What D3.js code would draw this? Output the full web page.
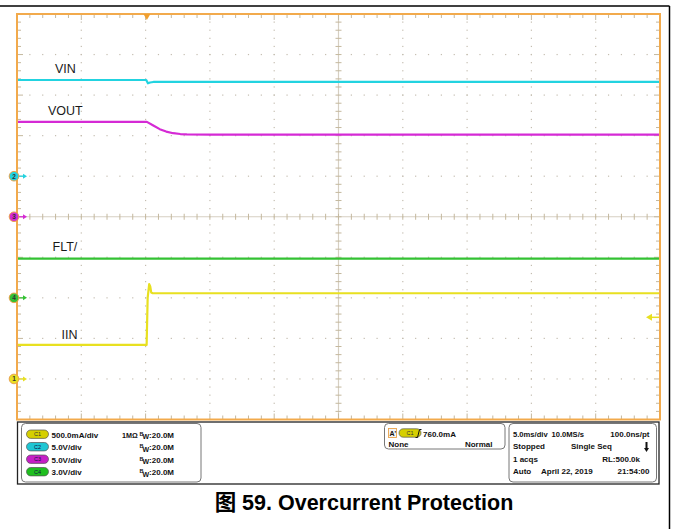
<!DOCTYPE html>
<html><head><meta charset="utf-8">
<script src="https://d3js.org/d3.v7.min.js"></script>
<style>
html,body{margin:0;padding:0;background:#fff;}
svg{display:block;font-family:"Liberation Sans",Arial,"Noto Sans CJK SC",sans-serif;}
</style></head>
<body><div id="chart"></div>
<script>
// ---- data ----
const channelIds = ["1", "2", "3", "4"];
const channelColors = ["#e8e020", "#22d3e0", "#d52ad5", "#33c233"];
const channelOffsetsDiv = [-4, 1, 0, -2];          // ground marker position (div)
const channelUnitsPerDiv = [500, 5, 5, 3];          // mA/div, V/div
const channelScaleLabels = ["500.0mA/div", "5.0V/div", "5.0V/div", "3.0V/div"];
const channelImpedance = ["1MΩ", "", "", ""];

const vinTime   = [-10.1, -0.05, 0.08, 0.25, 0.5, 39.9];
const vinValues = [11.86, 11.86, 11.45, 11.55, 11.62, 11.62];

const voutTime   = [-10.1, 0, 0.5, 1.0, 1.5, 2.05, 2.6, 3.1, 5, 39.9];
const voutValues = [11.7, 11.7, 11.25, 10.8, 10.5, 10.3, 10.2, 10.16, 10.13, 10.13];

const fltTime   = [-10.1, 39.9];
const fltValues = [2.9, 2.9];

const iinTime   = [-10.1, -0.02, 0.06, 0.18, 0.26, 0.34, 0.45, 39.9];
const iinValues = [420, 420, 1000, 1170, 1140, 1065, 1057, 1057];

const traceLabels = ["VIN", "VOUT", "FLT/", "IIN"];
const triggerLevel = 760; // mA on C1

const infoTrigger = ["760.0mA", "None", "Normal"];
const infoAcq = ["5.0ms/div", "10.0MS/s", "100.0ns/pt", "Stopped", "Single Seq", "1 acqs", "RL:500.0k", "Auto", "April 22, 2019", "21:54:00"];
const caption = "图 59. Overcurrent Protection";

// ---- layout ----
const W = 673, H = 529;
const svg = d3.select("#chart").append("svg").attr("width", W).attr("height", H);
svg.append("rect").attr("width", W).attr("height", H).attr("fill", "#fff");

const L = 17, R = 660, T = 14, B = 419.5;
const xDiv = d3.scaleLinear().domain([0, 10]).range([L, R]);
const yDiv = d3.scaleLinear().domain([-5, 5]).range([B, T]);
const xT = d3.scaleLinear().domain([-10.1, 39.9]).range([L, R]);

// page border lines
svg.append("line").attr("x1", 0).attr("x2", 669.5).attr("y1", 6).attr("y2", 6).attr("stroke", "#000").attr("stroke-width", 1.5);
svg.append("line").attr("x1", 669.5).attr("x2", 669.5).attr("y1", 6).attr("y2", H).attr("stroke", "#000").attr("stroke-width", 1.5);

const g = svg.append("g");
const gridCol = "#c4bdb0";

// dotted grid
for (let i = 1; i < 10; i++) {
  if (i === 5) continue;
  d3.range(0, 50.01, 1).forEach(k => {
    const yv = -5 + k * 0.2;
    g.append("rect").attr("x", xDiv(i) - 0.6).attr("y", yDiv(yv) - 0.6).attr("width", 1.2).attr("height", 1.2).attr("fill", gridCol);
  });
}
for (let j = -4; j <= 4; j++) {
  if (j === 0) continue;
  d3.range(0, 50.01, 1).forEach(k => {
    const xv = k * 0.2;
    g.append("rect").attr("x", xDiv(xv) - 0.6).attr("y", yDiv(j) - 0.6).attr("width", 1.2).attr("height", 1.2).attr("fill", gridCol);
  });
}
// center cross
g.append("line").attr("x1", L).attr("x2", R).attr("y1", yDiv(0)).attr("y2", yDiv(0)).attr("stroke", "#d6cfc2").attr("stroke-width", 1.2);
g.append("line").attr("x1", xDiv(5)).attr("x2", xDiv(5)).attr("y1", T).attr("y2", B).attr("stroke", "#d6cfc2").attr("stroke-width", 1.2);
const tickCol = "#c4b89e";
d3.range(0, 50.01, 1).forEach(k => {
  const xv = k * 0.2, major = k % 5 === 0;
  g.append("line").attr("x1", xDiv(xv)).attr("x2", xDiv(xv)).attr("y1", yDiv(0) - 3).attr("y2", yDiv(0) + 3).attr("stroke", tickCol);
  g.append("line").attr("x1", xDiv(xv)).attr("x2", xDiv(xv)).attr("y1", T).attr("y2", T + (major ? 6 : 4)).attr("stroke", tickCol);
  g.append("line").attr("x1", xDiv(xv)).attr("x2", xDiv(xv)).attr("y1", B).attr("y2", B - (major ? 6 : 4)).attr("stroke", tickCol);
  const yv = -5 + k * 0.2;
  g.append("line").attr("y1", yDiv(yv)).attr("y2", yDiv(yv)).attr("x1", xDiv(5) - 3).attr("x2", xDiv(5) + 3).attr("stroke", tickCol);
  g.append("line").attr("y1", yDiv(yv)).attr("y2", yDiv(yv)).attr("x1", L).attr("x2", L + (major ? 6 : 4)).attr("stroke", tickCol);
  g.append("line").attr("y1", yDiv(yv)).attr("y2", yDiv(yv)).attr("x1", R).attr("x2", R - (major ? 6 : 4)).attr("stroke", tickCol);
});

// traces
function chY(ch, v) { return yDiv(channelOffsetsDiv[ch] + v / channelUnitsPerDiv[ch]); }
function drawTrace(ch, ts, vs, width) {
  const pts = ts.map((t, i) => [t, vs[i]]);
  const line = d3.line().x(d => xT(d[0])).y(d => chY(ch, d[1]));
  g.append("path").datum(pts).attr("d", line).attr("fill", "none")
    .attr("stroke", channelColors[ch]).attr("stroke-width", width).attr("stroke-linejoin", "round");
}
drawTrace(1, vinTime, vinValues, 2.2);
drawTrace(2, voutTime, voutValues, 2.2);
drawTrace(3, fltTime, fltValues, 2.2);
drawTrace(0, iinTime, iinValues, 2.2);

// trace labels
const labelPos = [[1, vinValues[0], 55, -7.5], [2, voutValues[0], 48, -6.5], [3, fltValues[0], 52.5, -7.5], [0, iinValues[0], 61.5, -6]];
labelPos.forEach((p, i) => {
  g.append("text").attr("x", p[2]).attr("y", chY(p[0], p[1]) + p[3]).attr("font-size", 12.5).attr("fill", "#1a1a1a").text(traceLabels[i]);
});

// frame
g.append("rect").attr("x", L).attr("y", T).attr("width", R - L).attr("height", B - T)
  .attr("fill", "none").attr("stroke", "#f2aa4c").attr("stroke-width", 2);

// trigger position marker
const tx = xT(0);
g.append("path").attr("d", `M${tx - 3.5},${T} L${tx + 3.5},${T} L${tx},${T + 6} Z`).attr("fill", "#f0a030");

// trigger level arrow (right)
const ty = chY(0, triggerLevel);
g.append("line").attr("x1", R - 9).attr("x2", R - 1).attr("y1", ty).attr("y2", ty).attr("stroke", channelColors[0]).attr("stroke-width", 1.5);
g.append("path").attr("d", `M${R - 14},${ty} L${R - 8},${ty - 3.5} L${R - 8},${ty + 3.5} Z`).attr("fill", channelColors[0]);

// channel ground markers
channelIds.forEach((id, i) => {
  const y = yDiv(channelOffsetsDiv[i]);
  g.append("line").attr("x1", 18).attr("x2", 24).attr("y1", y).attr("y2", y).attr("stroke", channelColors[i]).attr("stroke-width", 1.2);
  g.append("path").attr("d", `M${23},${y - 2.5} L${27},${y} L${23},${y + 2.5} Z`).attr("fill", channelColors[i]);
  g.append("circle").attr("cx", 14).attr("cy", y).attr("r", 4.8).attr("fill", channelColors[i]).attr("stroke", "#e9a24a").attr("stroke-width", 1);
  g.append("text").attr("x", 14).attr("y", y + 2.3).attr("text-anchor", "middle").attr("font-size", 6.5).attr("font-weight", "bold").attr("fill", "#333").text(id);
});

// ---- info panel ----
const ip = svg.append("g");
ip.append("rect").attr("x", 17.5).attr("y", 422).attr("width", 641.5).attr("height", 62).attr("fill", "#fff").attr("stroke", "#222").attr("stroke-width", 1.3);
ip.append("rect").attr("x", 21.5).attr("y", 423.5).attr("width", 179.5).attr("height", 58.5).attr("rx", 4).attr("fill", "#fff").attr("stroke", "#777").attr("stroke-width", 1);
ip.append("rect").attr("x", 384.5).attr("y", 423.5).attr("width", 120.5).attr("height", 25.5).attr("rx", 4).attr("fill", "#fff").attr("stroke", "#777").attr("stroke-width", 1);
ip.append("rect").attr("x", 509).attr("y", 423.5).attr("width", 147.5).attr("height", 58.5).attr("rx", 4).attr("fill", "#fff").attr("stroke", "#777").attr("stroke-width", 1);

const pillCols = ["#d6cf00", "#1fc6d4", "#c61fc6", "#1fbf1f"];
function pill(x, y, i) {
  ip.append("rect").attr("x", x).attr("y", y - 4.2).attr("width", 22).attr("height", 8.4).attr("rx", 4.2)
    .attr("fill", pillCols[i]).attr("stroke", "#555").attr("stroke-width", 0.7);
  ip.append("text").attr("x", x + 11).attr("y", y + 2).attr("text-anchor", "middle").attr("font-size", 5.5)
    .attr("fill", i === 0 ? "#333" : "#114").text("C" + channelIds[i]);
}
const txt = (x, y, s, anchor, fs) => ip.append("text").attr("x", x).attr("y", y).attr("font-size", fs || 8).attr("font-weight", "bold")
  .attr("fill", "#111").attr("text-anchor", anchor || "start").text(s);

const rowY = [434.5, 447, 459.5, 472];
channelIds.forEach((id, i) => {
  pill(26.5, rowY[i] - 0.3, i);
  txt(51.5, rowY[i] + 3, channelScaleLabels[i]);
  if (channelImpedance[i]) txt(122, rowY[i] + 3, channelImpedance[i], "start", 7.2);
  const t = ip.append("text").attr("x", 139.5).attr("y", rowY[i] + 3).attr("font-size", 8).attr("font-weight", "bold").attr("fill", "#111");
  t.append("tspan").attr("font-size", 5.5).attr("dy", -2).text("B");
  t.append("tspan").attr("font-size", 7).attr("dy", 3.5).attr("dx", -1).text("W");
  t.append("tspan").attr("dy", -1.5).text(":20.0M");
});

// trigger box
ip.append("rect").attr("x", 388.5).attr("y", 428.5).attr("width", 8).attr("height", 9).attr("fill", "#f4f4f4").attr("stroke", "#e9a24a").attr("stroke-width", 0.9);
ip.append("text").attr("x", 389.5).attr("y", 436).attr("font-size", 7).attr("font-weight", "bold").attr("fill", "#111").text("A'");
pill(399, 433, 0);
ip.append("path").attr("d", "M415.5,437.5 L417.5,437.5 L419.5,429.5 L421.5,429.5").attr("fill", "none").attr("stroke", "#111").attr("stroke-width", 1);
txt(423, 436.5, infoTrigger[0]);
txt(388.5, 446.5, infoTrigger[1]);
txt(492.5, 446.5, infoTrigger[2], "end");

// acquisition box
txt(513, 436.5, infoAcq[0], "start", 7.6);
txt(551.5, 436.5, infoAcq[1], "start", 7.6);
txt(649.5, 436.5, infoAcq[2], "end");
txt(513, 449, infoAcq[3]);
txt(571, 449, infoAcq[4]);
ip.append("line").attr("x1", 646.5).attr("x2", 646.5).attr("y1", 442).attr("y2", 449).attr("stroke", "#111").attr("stroke-width", 2);
ip.append("path").attr("d", "M644,448 L649,448 L646.5,452 Z").attr("fill", "#111");
txt(513, 461.5, infoAcq[5]);
txt(640, 461.5, infoAcq[6], "end");
txt(513, 474, infoAcq[7]);
txt(541, 474, infoAcq[8]);
txt(649.5, 474, infoAcq[9], "end");

// caption
svg.append("text").attr("x", 364).attr("y", 510).attr("text-anchor", "middle").attr("font-size", 21.5).attr("font-weight", "bold")
  .attr("fill", "#000").text(caption);
</script>
</body></html>
